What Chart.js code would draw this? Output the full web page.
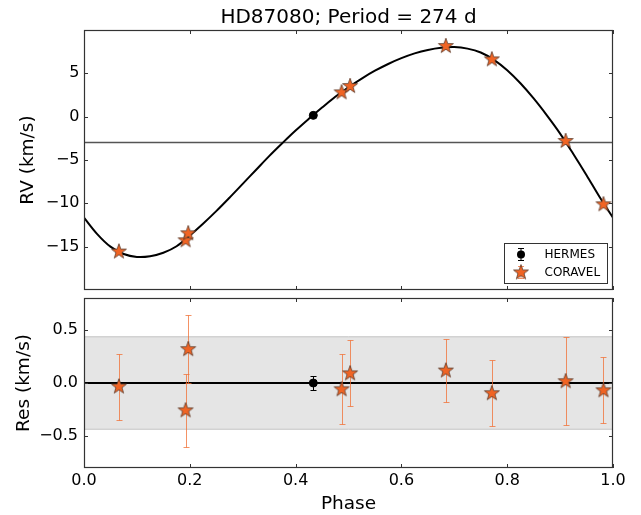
<!DOCTYPE html>
<html><head><meta charset="utf-8">
<script src="https://cdn.jsdelivr.net/npm/chart.js@4.4.1/dist/chart.umd.min.js"></script>
<style>
html,body{margin:0;padding:0;background:#fff;}
canvas{position:absolute;left:0;}
#top{top:0;width:641px;height:294px;}
#bot{top:294px;width:641px;height:221px;}
</style>
</head><body>
<canvas id="top" width="641" height="294"></canvas>
<canvas id="bot" width="641" height="221"></canvas>
<script>
// ---------------- data ----------------
const titleText = 'HD87080; Period = 274 d';
const phaseTicks = [0.0, 0.2, 0.4, 0.6, 0.8, 1.0];
const rvTicks = [-15, -10, -5, 0, 5];
const resTicks = [-0.5, 0.0, 0.5];

const coravelPhase = [0.066, 0.192, 0.197, 0.487, 0.503, 0.684, 0.771, 0.9105, 0.982];
const coravelRV    = [-15.57, -14.27, -13.46, 2.80, 3.53, 8.14, 6.61, -2.81, -10.12];
const coravelRes   = [-0.034, -0.258, 0.318, -0.06, 0.09, 0.117, -0.097, 0.016, -0.069];
const coravelErr   = [0.31, 0.34, 0.32, 0.33, 0.31, 0.30, 0.31, 0.414, 0.31];

const hermesPhase = [0.4335];
const hermesRV    = [0.15];
const hermesRes   = [0.0];
const hermesErr   = [0.065];

const gammaRV = -2.97;
const resBand = 0.435;

const modelPhase = [0.000, 0.025, 0.050, 0.075, 0.100, 0.125, 0.150, 0.175, 0.200, 0.225,
                    0.250, 0.275, 0.300, 0.325, 0.350, 0.375, 0.400, 0.425, 0.450, 0.475,
                    0.500, 0.525, 0.550, 0.575, 0.600, 0.625, 0.650, 0.675, 0.700, 0.725,
                    0.750, 0.775, 0.800, 0.825, 0.850, 0.875, 0.900, 0.925, 0.950, 0.975, 1.000];
const modelRV    = [-11.65, -13.55, -15.0, -15.85, -16.18, -16.1, -15.7, -14.95, -13.7, -12.35,
                    -10.9, -9.35, -7.75, -6.15, -4.55, -3.05, -1.6, -0.25, 1.05, 2.3,
                    3.4, 4.4, 5.3, 6.08, 6.75, 7.3, 7.7, 7.95, 8.03, 7.85,
                    7.4, 6.55, 5.35, 3.85, 2.1, 0.15, -1.95, -4.3, -6.75, -9.3, -11.65];

// ---------------- helpers ----------------
const FONT = 'DejaVu Sans';
Chart.defaults.font.family = FONT;
Chart.defaults.color = '#000';
const STAR_FILL = '#f06424';
const STAR_EDGE = '#5a3a2a';
const ERR_COLOR = 'rgba(240,110,50,0.75)';
const FRAME = '#333';

const minus = s => String(s).replace('-', '\u2212');
const pts = (xs, ys) => xs.map((x, i) => ({x: x, y: ys[i]}));

function makeStar(r, fill, stroke) {
  const size = Math.ceil(r * 2 + 4);
  const c = document.createElement('canvas');
  c.width = size; c.height = size;
  const g = c.getContext('2d');
  g.translate(size / 2, size / 2);
  g.beginPath();
  for (let i = 0; i < 10; i++) {
    const rr = (i % 2) ? r * 0.40 : r;
    const a = -Math.PI / 2 + i * Math.PI / 5;
    g.lineTo(rr * Math.cos(a), rr * Math.sin(a));
  }
  g.closePath();
  g.fillStyle = fill; g.fill();
  g.lineWidth = 0.8; g.strokeStyle = stroke; g.stroke();
  return c;
}
const starImg = makeStar(7.9, STAR_FILL, STAR_EDGE);

const errorBars = {
  id: 'errorBars',
  beforeDatasetDraw(chart, args) {
    const ds = chart.data.datasets[args.index];
    if (!ds.errors) return;
    const xs = chart.scales.x, ys = chart.scales.y, ctx = chart.ctx;
    ctx.save();
    ctx.strokeStyle = ds.errorColor; ctx.lineWidth = 1;
    ctx.beginPath();
    ds.data.forEach((p, i) => {
      const x = Math.round(xs.getPixelForValue(p.x)) + 0.5;
      const y1 = Math.round(ys.getPixelForValue(p.y + ds.errors[i])) + 0.5;
      const y2 = Math.round(ys.getPixelForValue(p.y - ds.errors[i])) + 0.5;
      ctx.moveTo(x, y1); ctx.lineTo(x, y2);
      ctx.moveTo(x - 3, y1); ctx.lineTo(x + 3, y1);
      ctx.moveTo(x - 3, y2); ctx.lineTo(x + 3, y2);
    });
    ctx.stroke();
    ctx.restore();
  }
};

const frameTicks = {
  id: 'frameTicks',
  afterDatasetsDraw(chart, args, opts) {
    const {ctx, chartArea: a, scales} = chart;
    ctx.save();
    ctx.strokeStyle = FRAME; ctx.lineWidth = 1;
    const L = 4;
    ctx.beginPath();
    opts.xTicks.forEach(v => {
      const px = Math.round(scales.x.getPixelForValue(v)) + 0.5;
      ctx.moveTo(px, a.top); ctx.lineTo(px, a.top + L);
      ctx.moveTo(px, a.bottom); ctx.lineTo(px, a.bottom - L);
    });
    opts.yTicks.forEach(v => {
      const py = Math.round(scales.y.getPixelForValue(v)) + 0.5;
      ctx.moveTo(a.left, py); ctx.lineTo(a.left + L, py);
      ctx.moveTo(a.right, py); ctx.lineTo(a.right - L, py);
    });
    ctx.stroke();
    ctx.lineWidth = 1.2;
    ctx.strokeRect(Math.round(a.left) + 0.5, Math.round(a.top) + 0.5,
                   Math.round(a.right - a.left) - 1, Math.round(a.bottom - a.top) - 1);
    ctx.restore();
  }
};

const centerTitle = {
  id: 'centerTitle',
  afterDraw(chart, args, opts) {
    const {ctx, chartArea: a} = chart;
    ctx.save();
    ctx.fillStyle = '#000';
    ctx.font = '20px "' + FONT + '"';
    ctx.textAlign = 'center';
    ctx.textBaseline = 'middle';
    ctx.fillText(opts.text, (a.left + a.right) / 2, 18);
    ctx.restore();
  }
};

const boxLegend = {
  id: 'boxLegend',
  afterDraw(chart, args, opts) {
    const {ctx, chartArea: a} = chart;
    const w = 103, h = 40;
    const x0 = Math.round(a.right - 6 - w) + 0.5, y0 = Math.round(a.bottom - 7 - h) + 0.5;
    ctx.save();
    ctx.fillStyle = '#fff';
    ctx.fillRect(x0, y0, w, h);
    ctx.strokeStyle = FRAME; ctx.lineWidth = 1;
    ctx.strokeRect(x0, y0, w, h);
    const mx = x0 + 16.5;
    opts.items.forEach((it, i) => {
      const my = y0 + 11 + i * 18;
      ctx.strokeStyle = it.errColor; ctx.lineWidth = 1;
      ctx.beginPath();
      ctx.moveTo(mx, my - 6); ctx.lineTo(mx, my + 6);
      ctx.moveTo(mx - 3, my - 6); ctx.lineTo(mx + 3, my - 6);
      ctx.moveTo(mx - 3, my + 6); ctx.lineTo(mx + 3, my + 6);
      ctx.stroke();
      if (it.star) {
        ctx.drawImage(starImg, mx - starImg.width / 2, my - starImg.height / 2);
      } else {
        ctx.fillStyle = '#000';
        ctx.beginPath(); ctx.arc(mx, my, 4, 0, Math.PI * 2); ctx.fill();
      }
      ctx.fillStyle = '#000';
      ctx.font = '12px "' + FONT + '"';
      ctx.textBaseline = 'middle';
      ctx.textAlign = 'left';
      ctx.fillText(it.label, x0 + 40, my);
    });
    ctx.restore();
  }
};

function fixedTicks(list) {
  return s => { s.ticks = list.map(v => ({value: v})); };
}
function yFit(s) { s.width = 84; s.paddingTop = 0; s.paddingBottom = 0; }
function xFit(s) { s.height = 47; s.paddingLeft = 0; s.paddingRight = 0; }

// ---------------- top chart ----------------
new Chart(document.getElementById('top'), {
  type: 'scatter',
  data: {
    datasets: [
      {label: 'gamma', data: pts([0, 1], [gammaRV, gammaRV]), showLine: true,
       borderColor: '#555', borderWidth: 1.5, pointRadius: 0, order: 4},
      {label: 'model', data: pts(modelPhase, modelRV), showLine: true, tension: 0.35,
       borderColor: '#000', borderWidth: 2, pointRadius: 0, order: 3},
      {label: 'HERMES', data: pts(hermesPhase, hermesRV), pointStyle: 'circle',
       pointRadius: 4, backgroundColor: '#000', borderColor: '#000', order: 2},
      {label: 'CORAVEL', data: pts(coravelPhase, coravelRV), pointStyle: starImg,
       pointRadius: 8, order: 1}
    ]
  },
  options: {
    responsive: false, animation: false, devicePixelRatio: 1,
    layout: {autoPadding: false, padding: {left: 0, right: 28, top: 30, bottom: 4}},
    scales: {
      x: {type: 'linear', min: 0, max: 1, display: false},
      y: {type: 'linear', min: -20, max: 10,
          afterBuildTicks: fixedTicks(rvTicks),
          afterFit: yFit,
          grid: {display: false, drawTicks: false}, border: {display: false},
          ticks: {font: {size: 16}, padding: 4.5, color: '#000',
                  callback: v => minus(v.toFixed(0))},
          title: {display: true, text: 'RV (km/s)', font: {size: 18.5}, color: '#000',
                  padding: {top: 17, bottom: 0}}}
    },
    plugins: {
      legend: {display: false}, tooltip: {enabled: false}, title: {display: false},
      centerTitle: {text: titleText},
      frameTicks: {xTicks: phaseTicks, yTicks: rvTicks},
      boxLegend: {items: [
        {label: 'HERMES', star: false, errColor: '#000'},
        {label: 'CORAVEL', star: true, errColor: ERR_COLOR}
      ]}
    }
  },
  plugins: [errorBars, frameTicks, boxLegend, centerTitle]
});

// ---------------- bottom chart ----------------
new Chart(document.getElementById('bot'), {
  type: 'scatter',
  data: {
    datasets: [
      {label: 'band+', data: pts([0, 1], [resBand, resBand]), showLine: true,
       borderColor: '#c4c4c4', borderWidth: 1, pointRadius: 0,
       backgroundColor: '#e5e5e5', fill: {value: -resBand}, order: 6},
      {label: 'band-', data: pts([0, 1], [-resBand, -resBand]), showLine: true,
       borderColor: '#c4c4c4', borderWidth: 1, pointRadius: 0, order: 5},
      {label: 'zero', data: pts([0, 1], [0, 0]), showLine: true,
       borderColor: '#000', borderWidth: 2, pointRadius: 0, order: 4},
      {label: 'HERMES', data: pts(hermesPhase, hermesRes), pointStyle: 'circle',
       pointRadius: 4, backgroundColor: '#000', borderColor: '#000',
       errors: hermesErr, errorColor: '#000', order: 2},
      {label: 'CORAVEL', data: pts(coravelPhase, coravelRes), pointStyle: starImg,
       pointRadius: 8, errors: coravelErr, errorColor: ERR_COLOR, order: 1}
    ]
  },
  options: {
    responsive: false, animation: false, devicePixelRatio: 1,
    layout: {autoPadding: false, padding: {left: 0, right: 28, top: 4, bottom: 0}},
    scales: {
      x: {type: 'linear', min: 0, max: 1,
          afterBuildTicks: fixedTicks(phaseTicks),
          afterFit: xFit,
          grid: {display: false, drawTicks: false}, border: {display: false},
          ticks: {font: {size: 16}, padding: 3, color: '#000', autoSkip: false, maxRotation: 0,
                  callback: v => v.toFixed(1)},
          title: {display: true, text: 'Phase', font: {size: 18.5}, color: '#000',
                  padding: {top: 3, bottom: 0}}},
      y: {type: 'linear', min: -0.8, max: 0.8,
          afterBuildTicks: fixedTicks(resTicks),
          afterFit: yFit,
          grid: {display: false, drawTicks: false}, border: {display: false},
          ticks: {font: {size: 16}, padding: 6, color: '#000',
                  callback: v => minus(v.toFixed(1))},
          title: {display: true, text: 'Res (km/s)', font: {size: 18.5}, color: '#000',
                  padding: {top: 13, bottom: 0}}}
    },
    plugins: {
      legend: {display: false}, tooltip: {enabled: false},
      frameTicks: {xTicks: phaseTicks, yTicks: resTicks}
    }
  },
  plugins: [errorBars, frameTicks]
});
</script>
</body></html>
